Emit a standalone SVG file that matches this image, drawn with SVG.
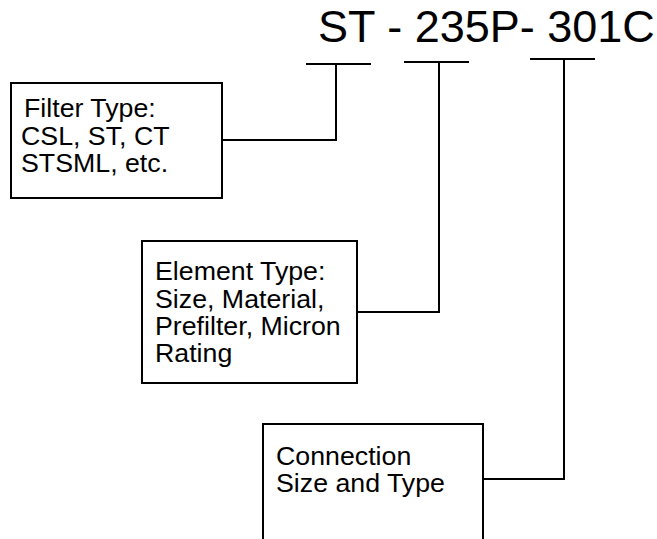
<svg xmlns="http://www.w3.org/2000/svg" width="657" height="539" viewBox="0 0 657 539">
<style>
.box{fill:#fff;stroke:#000;stroke-width:2}
.ln{fill:none;stroke:#000;stroke-width:2}
.t{font-family:"Liberation Sans",Arial,sans-serif;font-size:25px;fill:#000}
.title{font-family:"Liberation Sans",Arial,sans-serif;font-size:45px;fill:#000}
</style>
<rect width="657" height="539" fill="#fff"/>
<text class="title" x="318" y="42">ST - 235P- 301C</text>
<g id="connectors">
<path class="ln" d="M306 64H371M336 64V140H222"/>
<path class="ln" d="M404 62H469M439 62V312H357"/>
<path class="ln" d="M530 59H595M564 59V479H483"/>
</g>
<g id="filter-type">
<rect class="box" x="11" y="83" width="211" height="115"/>
<text class="t" transform="translate(24 117) scale(1.07 1)">Filter Type:</text>
<text class="t" transform="translate(21 145) scale(1.07 1)">CSL, ST, CT</text>
<text class="t" transform="translate(21 172) scale(1.07 1)">STSML, etc.</text>
</g>
<g id="element-type">
<rect class="box" x="142" y="241" width="215" height="142"/>
<text class="t" transform="translate(155 280) scale(1.07 1)">Element Type:</text>
<text class="t" transform="translate(155 308) scale(1.07 1)">Size, Material,</text>
<text class="t" transform="translate(155 335) scale(1.07 1)">Prefilter, Micron</text>
<text class="t" transform="translate(155 362) scale(1.07 1)">Rating</text>
</g>
<g id="connection">
<rect class="box" x="263" y="424" width="220" height="130"/>
<text class="t" transform="translate(276 465) scale(1.07 1)">Connection</text>
<text class="t" transform="translate(276 492) scale(1.07 1)">Size and Type</text>
</g>
</svg>
